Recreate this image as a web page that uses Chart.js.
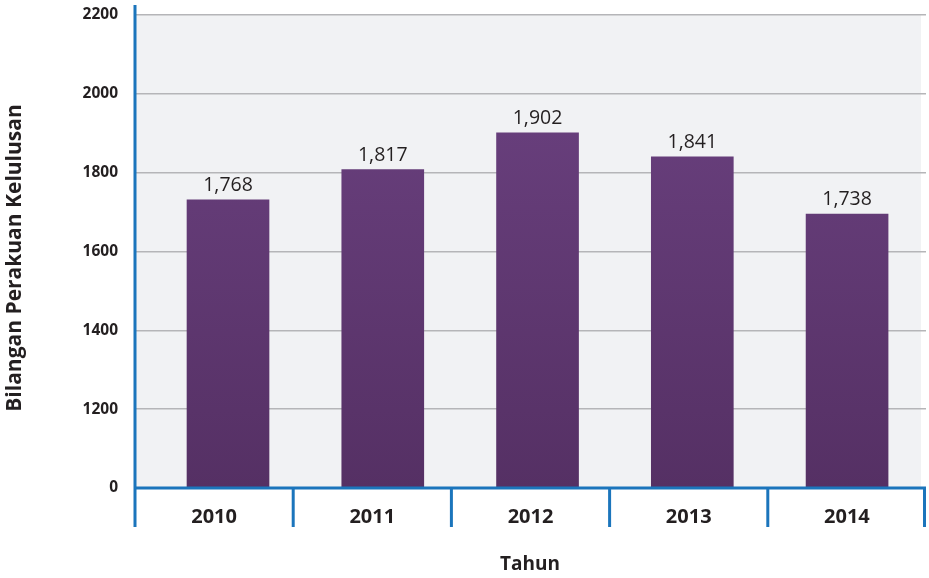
<!DOCTYPE html>
<html>
<head>
<meta charset="utf-8">
<script src="https://cdn.jsdelivr.net/npm/chart.js@4/dist/chart.umd.min.js"></script>
<style>
  html, body { margin: 0; padding: 0; background: #fff; }
  #wrap { width: 929px; height: 578px; }
</style>
</head>
<body>
<div id="wrap"><canvas id="myChart" width="929" height="578"></canvas></div>
<script>
// data
let years = ["2010", "2011", "2012", "2013", "2014"];
let barHeights = [1731, 1808, 1901, 1840, 1695];   // where the bars actually end
let valueLabels = ["1,768", "1,817", "1,902", "1,841", "1,738"];
let yTicks = [1000, 1200, 1400, 1600, 1800, 2000, 2200];
let yTickText = ["0", "1200", "1400", "1600", "1800", "2000", "2200"];

const FONT = "'Open Sans', 'Noto Sans', sans-serif";
const BLUE = "#1b75bc";
const TEXT = "#231f20";

// background, axes and labels
let decorPlugin = {
  id: "decor",
  beforeDraw: (chart) => {
    let ctx = chart.ctx;
    let a = chart.chartArea;
    ctx.save();
    ctx.fillStyle = "#f1f2f4";
    ctx.fillRect(a.left, a.top, a.right - a.left - 5, a.bottom - a.top);
    ctx.restore();
  },
  afterDraw: (chart) => {
    let ctx = chart.ctx;
    let a = chart.chartArea;
    ctx.save();
    ctx.strokeStyle = BLUE;
    ctx.lineWidth = 3;
    // y axis line
    ctx.beginPath();
    ctx.moveTo(a.left, a.top - 10);
    ctx.lineTo(a.left, a.bottom + 39);
    ctx.stroke();
    // x axis line
    ctx.beginPath();
    ctx.moveTo(a.left, a.bottom);
    ctx.lineTo(a.right, a.bottom);
    ctx.stroke();
    // category boundaries
    let w = (a.right - a.left) / years.length;
    for (let i = 1; i <= years.length; i++) {
      let x = a.left + i * w;
      if (i == years.length) x -= 1.5;
      ctx.beginPath();
      ctx.moveTo(x, a.bottom);
      ctx.lineTo(x, a.bottom + 39);
      ctx.stroke();
    }

    // value labels above bars
    let meta = chart.getDatasetMeta(0);
    ctx.fillStyle = TEXT;
    ctx.font = "19.5px " + FONT;
    ctx.textAlign = "center";
    ctx.textBaseline = "alphabetic";
    meta.data.forEach((bar, i) => {
      ctx.fillText(valueLabels[i], bar.x, bar.y - 9);
    });

    // axis titles
    ctx.textBaseline = "middle";
    ctx.font = "bold 19px " + FONT;
    ctx.fillText("Tahun", 530, 565);
    ctx.font = "bold 21px " + FONT;
    ctx.translate(15, 258);
    ctx.rotate(-Math.PI / 2);
    ctx.fillText("Bilangan Perakuan Kelulusan", 0, 0);
    ctx.restore();
  }
};

window.onload = () => {
  let ctx = document.getElementById("myChart").getContext("2d");
  let grad = ctx.createLinearGradient(0, 130, 0, 488);
  grad.addColorStop(0, "#673e7b");
  grad.addColorStop(1, "#553064");

  let myChart = new Chart(ctx, {
    type: "bar",
    data: {
      datasets: [{
        data: barHeights.map((v, i) => ({ x: i, y: v })),
        backgroundColor: grad,
        borderWidth: 0,
        barThickness: 82,
        base: 1000
      }]
    },
    options: {
      responsive: false,
      animation: false,
      layout: { padding: { left: 0, top: 15, right: 3, bottom: 0 } },
      plugins: { legend: { display: false }, tooltip: { enabled: false } },
      scales: {
        x: {
          type: "linear",
          min: -0.601,
          max: 4.51,
          offset: false,
          display: false
        },
        xc: {
          type: "category",
          labels: years,
          position: "bottom",
          offset: true,
          border: { display: false },
          grid: { display: false, drawTicks: false },
          ticks: {
            padding: 17,
            color: TEXT,
            font: { family: FONT, size: 20, weight: "bold" }
          },
          afterFit: (s) => { s.height = 90; }
        },
        y: {
          min: 1000,
          max: 2200,
          border: { display: false },
          grid: { color: "#b5b5b8", lineWidth: 1.5, drawTicks: false },
          afterBuildTicks: (s) => { s.ticks = yTicks.map((v) => ({ value: v })); },
          ticks: {
            padding: 17,
            color: TEXT,
            font: { family: FONT, size: 15.5, weight: "bold" },
            callback: (v) => yTickText[yTicks.indexOf(v)]
          },
          afterFit: (s) => {
            s.width = 135;
            s.paddingTop = 0;
            s.paddingBottom = 0;
          }
        }
      }
    },
    plugins: [decorPlugin]
  });
};
</script>
</body>
</html>
